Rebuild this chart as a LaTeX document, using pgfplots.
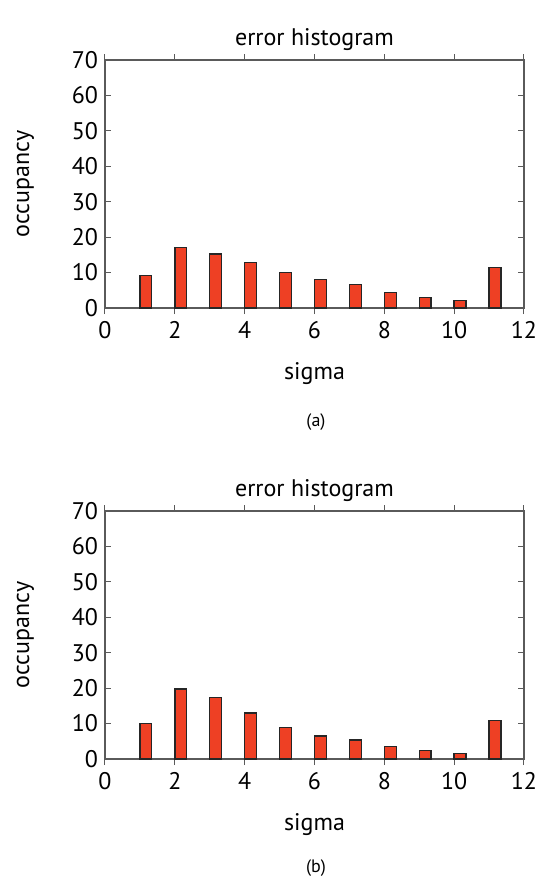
\documentclass[border=0pt]{standalone}
\usepackage{pgfplots}
\pgfplotsset{compat=1.18}
\usepackage{fontspec}
\setmainfont{PT Sans}
\definecolor{barred}{RGB}{238,64,36}
\definecolor{axgray}{RGB}{90,90,90}

\pgfplotstableread{
x y
1 9.2
2 17.1
3 15.3
4 12.8
5 10.1
6 8.1
7 6.7
8 4.4
9 2.9
10 2.1
11 11.4
}\dataa
\pgfplotstableread{
x y
1 10.1
2 19.8
3 17.3
4 13.0
5 8.9
6 6.5
7 5.4
8 3.5
9 2.4
10 1.6
11 10.8
}\datab

\pgfplotsset{
  hist/.style={
    scale only axis,
    width=209.5pt, height=124pt,
    xmin=0, xmax=12, ymin=0, ymax=70,
    xtick={0,2,...,12}, ytick={0,10,...,70},
    tick align=inside,
    major tick length=3pt,
    axis line style={axgray, line width=0.6pt},
    every tick/.style={axgray, line width=0.5pt},
    tick label style={font=\fontsize{12}{14}\selectfont},
    label style={font=\fontsize{12}{14}\selectfont},
    title style={font=\fontsize{12}{14}\selectfont, yshift=-5pt},
    /pgf/number format/assume math mode=true,
    title={error histogram},
    xlabel={sigma}, ylabel={occupancy},
    ylabel style={yshift=12pt},
    xlabel style={yshift=-5pt},
    ybar, bar width=0.34, bar shift=0.17,
  },
}

\begin{document}
\begin{tikzpicture}
\begin{axis}[hist, at={(0,0)}]
\addplot[fill=barred, draw=black!85, line width=0.7pt] table[x=x,y=y] {\dataa};
\end{axis}
\node[font=\fontsize{9}{11}\selectfont] at (105.5pt,-57pt) {(a)};
\begin{axis}[hist, at={(0,-225.5pt)}]
\addplot[fill=barred, draw=black!85, line width=0.7pt] table[x=x,y=y] {\datab};
\end{axis}
\node[font=\fontsize{9}{11}\selectfont] at (105.5pt,-280pt) {(b)};
\pgfresetboundingbox
\path (-52.5pt,-288.5pt) rectangle (218pt,154pt);
\end{tikzpicture}
\end{document}
